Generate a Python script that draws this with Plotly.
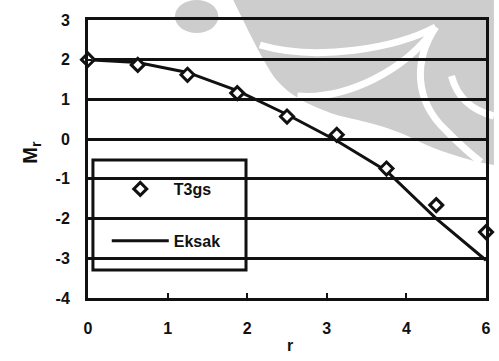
import math
import plotly.graph_objects as go

# Radial positions and bending moment M_r
r = [0, 0.625, 1.25, 1.875, 2.5, 3.125, 3.75, 4.375, 5.0]
m_t3gs = [2.00, 1.87, 1.62, 1.16, 0.57, 0.11, -0.74, -1.66, -2.34]
m_eksak = [2.00, 1.93, 1.68, 1.22, 0.62, -0.04, -0.80, -2.00, -3.05]

x_ticks = [0, 1, 2, 3, 4, 5]
x_ticktext = ["0", "1", "2", "3", "4", "6"]
y_ticks = [-4, -3, -2, -1, 0, 1, 2, 3]
y_ticktext = ["-4", "-3", "-2", "-1", "0", "1", "2", "3"]

FONT = dict(family="Liberation Sans, Arial, sans-serif", size=16, color="#111111", weight="bold")
GRAY = "#cdcdcd"

# figure geometry in pixels (used to place the watermark and legend frame)
W, H = 499, 361
L, R, T, B = 88, 8, 20, 63
pw, ph = W - L - R, H - T - B


def px_x(v):
    return (v - L) / pw


def px_y(v):
    return (H - B - v) / ph


fig = go.Figure()
fig.add_trace(go.Scatter(
    x=r, y=m_eksak, mode="lines", name="Eksak",
    line=dict(color="#111111", width=3),
    legendgroup="eksak", legendrank=2, cliponaxis=False,
))
fig.add_trace(go.Scatter(
    x=r, y=m_t3gs, mode="markers", name="T3gs",
    marker=dict(symbol="diamond", size=10, color="white",
                line=dict(color="#111111", width=3)),
    legendgroup="t3gs", legendrank=1, cliponaxis=False,
))

# faint watermark in the background: a swirl in the upper right ...
watermark = (
    "M 235,0 L 499,0 L 499,165 C 470,160 440,150 420,140 C 390,125 360,120 340,115 "
    "C 310,105 290,95 275,75 C 262,55 250,30 235,0 Z"
)
white_curves = [
    "M 262,45 C 320,62 400,48 440,27",
    "M 300,96 C 350,100 410,70 440,27",
    "M 440,27 C 418,60 418,100 450,130 C 462,142 472,152 486,162",
    "M 456,76 C 462,98 476,110 499,116",
]


def to_paper(path):
    out = []
    coord = []
    for tok in path.replace(",", " ").split():
        if tok.isalpha():
            out.append(tok)
        else:
            coord.append(float(tok))
            if len(coord) == 2:
                out.append(f"{px_x(coord[0]):.4f},{px_y(coord[1]):.4f}")
                coord = []
    return " ".join(out)


shapes = [dict(type="path", xref="paper", yref="paper", layer="below",
               path=to_paper(watermark), fillcolor=GRAY, line_width=0)]
for p in white_curves:
    shapes.append(dict(type="path", xref="paper", yref="paper", layer="below",
                       path=to_paper(p), line=dict(color="white", width=7)))

# ... and a round blob near the top edge, drawn under the axis frame
shapes.append(dict(type="circle", xref="paper", yref="paper", layer="between",
                   x0=px_x(176), x1=px_x(220), y0=px_y(33), y1=px_y(0),
                   fillcolor=GRAY, line_width=0))

# legend frame (white box hiding the gridlines behind the legend)
shapes.append(dict(type="rect", xref="paper", yref="paper", layer="between",
                   x0=px_x(93), x1=px_x(248), y0=px_y(270), y1=px_y(160),
                   fillcolor="white", line=dict(color="#111111", width=3)))

fig.update_layout(
    width=W, height=H,
    margin=dict(l=L, r=R, t=T, b=B),
    paper_bgcolor="white", plot_bgcolor="rgba(0,0,0,0)",
    font=FONT,
    showlegend=True,
    legend=dict(
        x=px_x(107), y=px_y(172), xanchor="left", yanchor="top",
        bgcolor="rgba(0,0,0,0)", borderwidth=0,
        itemwidth=57, tracegroupgap=28, traceorder="grouped",
        font=FONT,
    ),
    xaxis=dict(
        range=[0, 5], tickvals=x_ticks, ticktext=x_ticktext,
        showgrid=False, zeroline=False,
        showline=True, linecolor="#111111", linewidth=3, mirror=True,
        ticks="inside", ticklen=5, tickwidth=2, tickcolor="#111111",
        ticklabelstandoff=14, tickfont=FONT,
    ),
    yaxis=dict(
        range=[-4, 3], tickvals=y_ticks, ticktext=y_ticktext,
        showgrid=True, gridcolor="#111111", gridwidth=2.5, zeroline=False,
        showline=True, linecolor="#111111", linewidth=3, mirror=True,
        ticks="inside", ticklen=4, tickwidth=2, tickcolor="#111111",
        ticklabelstandoff=12, tickfont=FONT,
    ),
    annotations=[
        dict(text="M<sub>r</sub>", xref="paper", yref="paper",
             x=px_x(30), y=px_y(152), xanchor="center", yanchor="middle",
             showarrow=False, textangle=-90, font=dict(FONT, size=20)),
        dict(text="r", xref="paper", yref="paper",
             x=px_x(293), y=px_y(345), xanchor="center", yanchor="middle",
             showarrow=False, font=FONT),
    ],
    shapes=shapes,
)

fig.write_html("out.html")
